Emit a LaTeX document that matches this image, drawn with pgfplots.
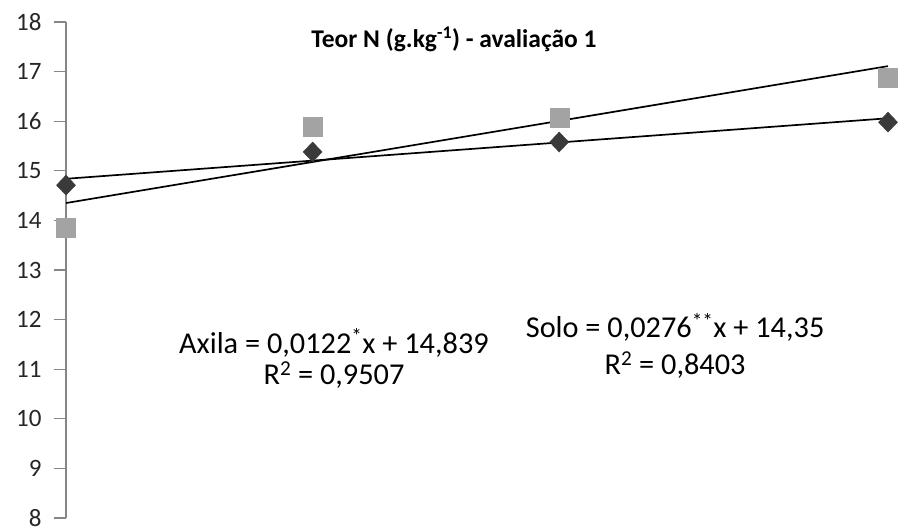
\documentclass[border=0pt]{standalone}
\usepackage{fontspec}
\setmainfont{Carlito}
\usepackage{pgfplots}
\pgfplotsset{compat=1.18}
\definecolor{axgray}{HTML}{868686}
\definecolor{dia}{HTML}{3A3A3A}
\definecolor{sq}{HTML}{A3A3A3}
\begin{document}
\begin{tikzpicture}
\begin{axis}[
  scale only axis,
  width=822pt, height=496pt,
  xmin=0, xmax=100, ymin=8, ymax=18,
  axis x line=none,
  axis y line*=left,
  y axis line style={axgray, line width=1.2pt, -},
  ytick={8,...,18},
  ytick style={axgray, line width=1.2pt},
  tick align=outside,
  major tick length=12pt,
  tick label style={font=\fontsize{25}{28}\selectfont},
  yticklabel style={text=black!85, xshift=-9pt},
  /pgf/number format/assume math mode=true,
  clip=false,
]
\addplot[only marks, mark=square*, mark size=9.5pt, color=sq] coordinates {
 (0,13.85) (30,15.88) (60,16.08) (100,16.87)};
\addplot[only marks, mark=diamond*, mark size=10pt, mark options={xscale=1.27}, color=dia] coordinates {
 (0,14.71) (30,15.38) (60,15.58) (100,15.98)};
\addplot[black, line width=1.7pt] coordinates {(0,14.839) (100,16.059)};
\addplot[black, line width=1.7pt] coordinates {(0,14.35) (100,17.11)};
\node[font=\bfseries\fontsize{25.5}{28}\selectfont] at (axis cs:47.2,17.64) {Teor N (g.kg\textsuperscript{-1}) - avaliação 1};
\node[font=\fontsize{30.3}{34}\selectfont] at (axis cs:32.6,11.53) {Axila = 0,0122\textsuperscript{*}x + 14,839};
\node[font=\fontsize{30.3}{34}\selectfont] at (axis cs:32.6,10.88) {R\textsuperscript{2} = 0,9507};
\node[font=\fontsize{30.3}{34}\selectfont] at (axis cs:74.1,11.85) {Solo = 0,0276\textsuperscript{**}x + 14,35};
\node[font=\fontsize{30.3}{34}\selectfont] at (axis cs:74.1,11.08) {R\textsuperscript{2} = 0,8403};
\end{axis}
\pgfresetboundingbox
\path[use as bounding box] (current axis.south west) ++(-66pt,-14pt) rectangle ([shift={(14pt,22pt)}]current axis.north east);
\end{tikzpicture}
\end{document}
